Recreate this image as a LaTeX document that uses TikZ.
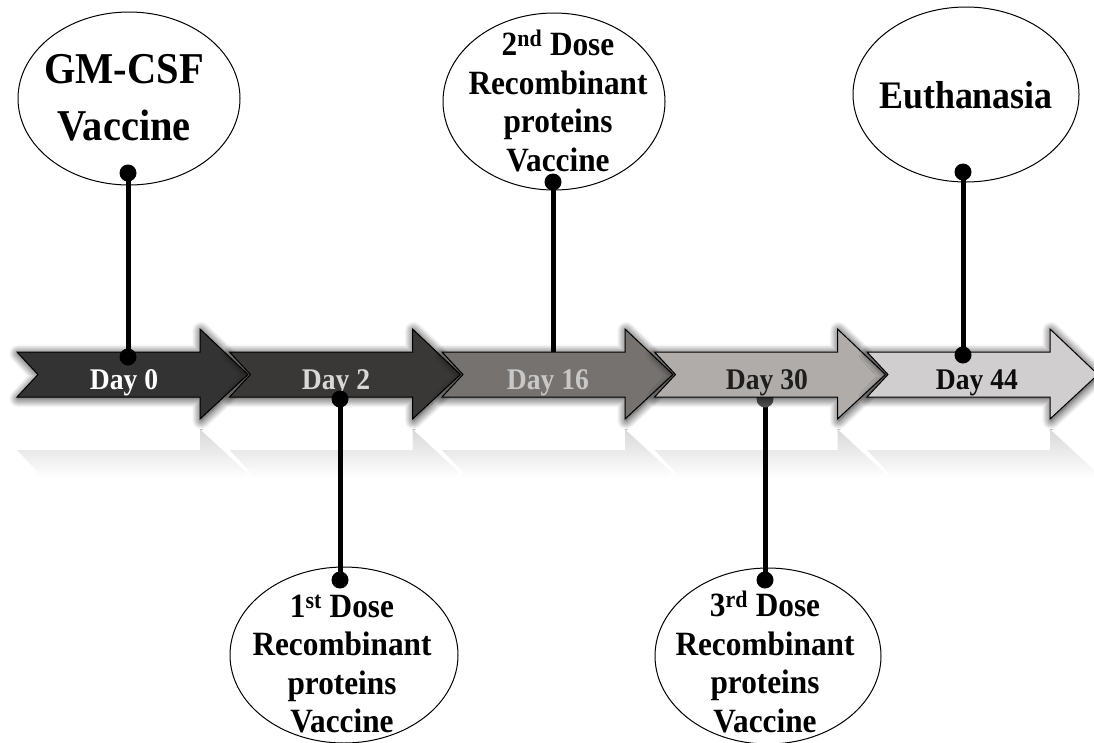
\documentclass[tikz,border=0pt]{standalone}
\usepackage{fontspec}
\setmainfont{Liberation Serif}[FakeStretch=0.92]
\usetikzlibrary{shapes.geometric,shadows.blur}
\definecolor{arA}{HTML}{333333}
\definecolor{arB}{HTML}{3A3836}
\definecolor{arC}{HTML}{767270}
\definecolor{arD}{HTML}{B0ACAA}
\definecolor{arE}{HTML}{D0CECF}
\definecolor{txA}{HTML}{FFFFFF}
\definecolor{txB}{HTML}{D8D8D8}
\definecolor{txC}{HTML}{C8C8C8}
\definecolor{txD}{HTML}{1E1E1E}
\definecolor{txE}{HTML}{0D0D0D}
\definecolor{hiddendot}{HTML}{555555}
\tikzset{
  evt/.style={draw=black, line width=1pt, ellipse, fill=white, inner sep=0pt},
  lbl/.style={align=center, inner sep=0pt, font=\bfseries\fontsize{34}{38.5}\selectfont},
  pinline/.style={line width=5pt},
  pindot/.style={circle, fill=black, inner sep=0pt, minimum size=17pt},
  dayarrow/.style={draw=black, line width=1pt,
    blur shadow={shadow xshift=1pt, shadow yshift=-1.5pt, shadow blur radius=9pt, shadow opacity=90, shadow blur steps=12}},
  daylbl/.style={anchor=base, inner sep=0pt, font=\bfseries\fontsize{30}{32}\selectfont},
}
\begin{document}
\begin{tikzpicture}[x=1pt,y=-1pt]
\useasboundingbox (0,0) rectangle (1094,742);

% event ellipses
\node[evt, minimum width=222pt, minimum height=173pt] (e0) at (129,98.5) {};
\node[evt, minimum width=222pt, minimum height=177pt] (e2) at (554,101.5) {};
\node[evt, minimum width=226pt, minimum height=175pt] (e4) at (966,94.5) {};
\node[evt, minimum width=228pt, minimum height=176pt] (e1) at (344,655) {};
\node[evt, minimum width=226pt, minimum height=176pt] (e3) at (768,656) {};

% pin coordinates
\coordinate (p0a) at (128,173);
\coordinate (p0b) at (128,357);
\coordinate (p1a) at (340,399);
\coordinate (p1b) at (340,580);
\coordinate (p2a) at (553,182);
\coordinate (p2b) at (553,362);
\coordinate (p3a) at (765,399);
\coordinate (p3b) at (765,580);
\coordinate (p4a) at (963,172);
\coordinate (p4b) at (963,355);

% reflections
\foreach \L in {17,229.5,442,654.5,867}{
  \begin{scope}
  \clip (\L,450) -- (\L+183,450) -- (\L+183,428) -- (\L+231,472.5)
     -- (\L+183,518) -- (\L+183,495) -- (\L,495) -- (\L+21,472.5) -- cycle;
  \shade[top color=gray!32, bottom color=white] (\L-5,426) rectangle (\L+240,478);
  \end{scope}
  \draw[white, line width=1.5pt] (\L+183,428) -- (\L+231,472.5);
}

% pin lines (behind the arrows)
\draw[pinline] (p0a) -- (p0b);
\draw[pinline] (p1a) -- (p1b);
\draw[pinline] (p2a) -- (p2b);
\draw[pinline] (p3a) -- (p3b);
\draw[pinline] (p4a) -- (p4b);
\node[pindot, fill=hiddendot] (q3) at (p3a) {};

% day arrows
\foreach \L/\fc in {17/arA, 229.5/arB, 442/arC, 654.5/arD, 867/arE}{
  \draw[dayarrow, fill=\fc] (\L,352) -- (\L+183,352) -- (\L+183,329) -- (\L+231,374.5)
     -- (\L+183,419) -- (\L+183,397) -- (\L,397) -- (\L+21,374.5) -- cycle;
}
\node[daylbl, text=txA] (d0) at (124,389) {Day 0};
\node[daylbl, text=txB] (d1) at (336,389) {Day 2};
\node[daylbl, text=txC] (d2) at (548,389) {Day 16};
\node[daylbl, text=txD] (d3) at (767,389) {Day 30};
\node[daylbl, text=txE] (d4) at (977,389) {Day 44};

% event texts
\node[lbl, font=\bfseries\fontsize{44}{57}\selectfont] (t0) at (124,98) {GM-CSF\\Vaccine};
\node[lbl] (t2) at (558,101) {2\textsuperscript{nd} Dose\\Recombinant\\proteins\\Vaccine};
\node[lbl, anchor=base, font=\bfseries\fontsize{39}{40}\selectfont] (t4) at (966,108) {Euthanasia};
\node[lbl] (t1) at (342,664) {1\textsuperscript{st} Dose\\Recombinant\\proteins\\Vaccine};
\node[lbl] (t3) at (765,662) {3\textsuperscript{rd} Dose\\Recombinant\\proteins\\Vaccine};

% pin dots
\node[pindot] (q0a) at (p0a) {};
\node[pindot] (q0b) at (p0b) {};
\node[pindot] (q1a) at (p1a) {};
\node[pindot] (q1b) at (p1b) {};
\node[pindot] (q2a) at (p2a) {};
\node[pindot] (q3b) at (p3b) {};
\node[pindot] (q4a) at (p4a) {};
\node[pindot] (q4b) at (p4b) {};
\end{tikzpicture}
\end{document}
